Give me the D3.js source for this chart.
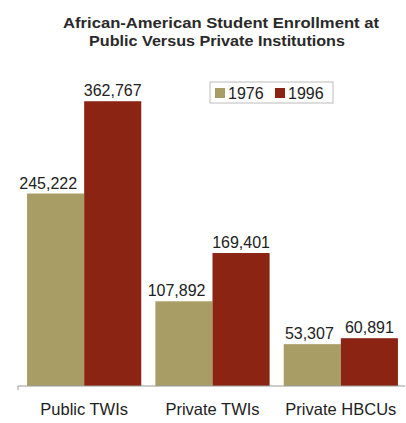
<!DOCTYPE html>
<html>
<head>
    <style>
        body {
            margin: 0;
            padding: 0;
            background: #fff;
            font-family: Arial, "Liberation Sans", sans-serif;
        }
        .title { font-weight: bold; font-size: 15.5px; fill: #2a2a2a; }
        .val { font-size: 16px; fill: #222; }
        .cat { font-size: 16.5px; fill: #222; }
        .leg { font-size: 16px; fill: #222; }
    </style>
    <script src="https://d3js.org/d3.v7.min.js"></script>
</head>
<body>
<div id="chart"></div>
<script>
    // data
    var categories = ["Public TWIs", "Private TWIs", "Private HBCUs"];
    var years = ["1976", "1996"];
    var values1976 = [245222, 107892, 53307];
    var values1996 = [362767, 169401, 60891];
    var colors = ["#a99d66", "#8c2414"];

    var W = 406, H = 423;
    var svg = d3.select("#chart").append("svg")
        .attr("width", W)
        .attr("height", H);

    var baseY = 386;
    var x0 = d3.scaleBand().domain(categories).range([20, 405])
        .paddingInner(0.11).paddingOuter(0.055);
    var x1 = d3.scaleBand().domain(years).range([0, x0.bandwidth()]);
    var y = d3.scaleLinear().domain([0, 400000]).range([baseY, 72]);

    // title
    svg.append("text").attr("class", "title").attr("x", 221).attr("y", 28)
        .attr("text-anchor", "middle")
        .attr("textLength", 316).attr("lengthAdjust", "spacingAndGlyphs")
        .text("African-American Student Enrollment at");
    svg.append("text").attr("class", "title").attr("x", 217).attr("y", 46)
        .attr("text-anchor", "middle")
        .attr("textLength", 256).attr("lengthAdjust", "spacingAndGlyphs")
        .text("Public Versus Private Institutions");

    var rows = categories.map(function(c, i) {
        return { cat: c, vals: [values1976[i], values1996[i]] };
    });

    var groups = svg.selectAll(".grp")
        .data(rows)
        .enter().append("g")
        .attr("class", "grp")
        .attr("transform", function(d) { return "translate(" + x0(d.cat) + ",0)"; });

    groups.selectAll("rect")
        .data(function(d) { return d.vals.map(function(v, j) { return { yr: years[j], v: v, j: j }; }); })
        .enter().append("rect")
        .attr("x", function(d) { return x1(d.yr); })
        .attr("y", function(d) { return y(d.v); })
        .attr("width", x1.bandwidth())
        .attr("height", function(d) { return baseY - y(d.v); })
        .attr("fill", function(d) { return colors[d.j]; });

    // 1976 labels sit right-aligned a bit in from the bar edge, 1996 centred
    groups.selectAll(".val")
        .data(function(d) { return d.vals.map(function(v, j) { return { yr: years[j], v: v, j: j }; }); })
        .enter().append("text")
        .attr("class", "val")
        .attr("x", function(d) {
            return d.j === 0 ? x1(d.yr) + x1.bandwidth() - 7 : x1(d.yr) + x1.bandwidth() / 2;
        })
        .attr("y", function(d) { return y(d.v) - 5; })
        .attr("text-anchor", function(d) { return d.j === 0 ? "end" : "middle"; })
        .text(function(d) { return d3.format(",")(d.v); });

    // x axis
    var xAxis = svg.append("g")
        .attr("transform", "translate(0," + baseY + ")")
        .call(d3.axisBottom(x0).tickSize(0).tickPadding(17));
    xAxis.select(".domain").attr("d", "M18,4V0H405").attr("stroke", "#999");
    xAxis.selectAll("text").attr("class", "cat").attr("font-size", null).attr("font-family", null);

    // legend
    var leg = svg.append("g").attr("transform", "translate(210,82)");
    leg.append("rect").attr("width", 123).attr("height", 21)
        .attr("fill", "#fff").attr("stroke", "#bbb");
    var items = leg.selectAll(".li").data(years).enter().append("g")
        .attr("transform", function(d, i) { return "translate(" + (5 + i * 60) + ",0)"; });
    items.append("rect").attr("y", 6).attr("width", 10).attr("height", 10)
        .attr("fill", function(d, i) { return colors[i]; });
    items.append("text").attr("class", "leg").attr("x", 13).attr("y", 17).text(function(d) { return d; });
</script>
</body>
</html>
